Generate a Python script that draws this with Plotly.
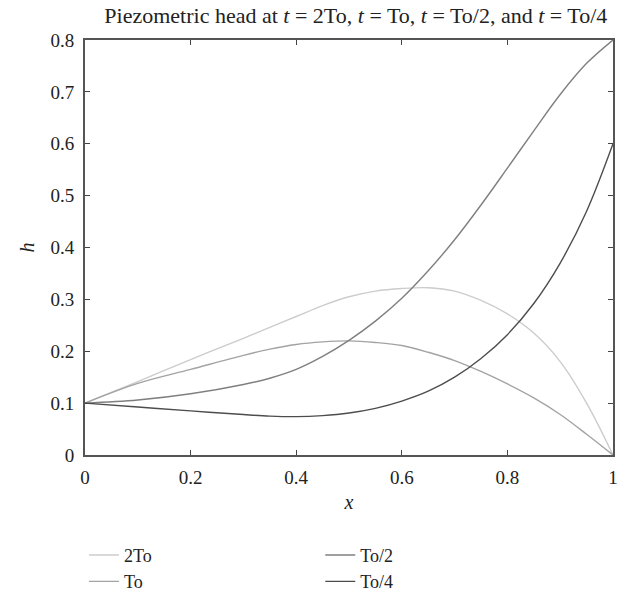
import plotly.graph_objects as go

x_vals = [0.0, 0.1, 0.2, 0.3, 0.35, 0.4, 0.45, 0.5, 0.55, 0.6, 0.65, 0.7, 0.75, 0.8, 0.85, 0.9, 0.95, 1.0]

h_2To = [0.100, 0.1415, 0.184, 0.225, 0.246, 0.267, 0.288, 0.305, 0.316, 0.321, 0.3225, 0.316, 0.298, 0.272, 0.235, 0.180, 0.100, 0.000]
h_To = [0.100, 0.138, 0.165, 0.192, 0.204, 0.213, 0.218, 0.220, 0.217, 0.211, 0.198, 0.182, 0.161, 0.137, 0.110, 0.078, 0.040, 0.000]
h_To2 = [0.100, 0.106, 0.118, 0.136, 0.148, 0.165, 0.190, 0.221, 0.258, 0.302, 0.355, 0.415, 0.482, 0.553, 0.625, 0.695, 0.755, 0.800]
h_To4 = [0.100, 0.0925, 0.085, 0.078, 0.075, 0.074, 0.076, 0.081, 0.090, 0.104, 0.123, 0.150, 0.186, 0.232, 0.292, 0.370, 0.470, 0.600]

names = ["2To", "To", "To/2", "To/4"]
series = [h_2To, h_To, h_To2, h_To4]
colors = ["#cccccc", "#a3a3a3", "#7f7f7f", "#4d4d4d"]
legends = ["legend", "legend", "legend2", "legend2"]

FONT = "Liberation Serif, Times New Roman, serif"
TXT = "#222222"

fig = go.Figure()
for name, ys, col, lg in zip(names, series, colors, legends):
    fig.add_trace(go.Scatter(
        x=x_vals, y=ys, mode="lines", name=name,
        line=dict(color=col, width=1.4, shape="spline", smoothing=1.0),
        legend=lg, legendgroup=name,
    ))

axis_common = dict(
    showgrid=False, zeroline=False,
    showline=True, linecolor="#555555", linewidth=2,
    mirror="ticks", ticks="inside", ticklen=5, tickwidth=1.2, tickcolor="#444444",
    tickfont=dict(family=FONT, size=19, color=TXT),
)

fig.update_layout(
    width=626, height=592,
    margin=dict(l=85, r=12.5, t=39.5, b=137, autoexpand=False),
    paper_bgcolor="white", plot_bgcolor="white",
    font=dict(family=FONT, color=TXT),
    title=dict(
        text="Piezometric head at <i>t</i> = 2To, <i>t</i> = To, <i>t</i> = To/2, and <i>t</i> = To/4",
        x=0.513, xref="paper", xanchor="center",
        y=0.975, yanchor="middle",
        font=dict(family=FONT, size=22, color=TXT),
    ),
    xaxis=dict(
        range=[0, 1], tickvals=[0, 0.2, 0.4, 0.6, 0.8, 1],
        ticktext=["0", "0.2", "0.4", "0.6", "0.8", "1"],
        ticklabelstandoff=4,
        title=dict(text="<i>x</i>", font=dict(family=FONT, size=20), standoff=8),
        **axis_common,
    ),
    yaxis=dict(
        range=[0, 0.8], tickvals=[0, 0.1, 0.2, 0.3, 0.4, 0.5, 0.6, 0.7, 0.8],
        ticktext=["0", "0.1", "0.2", "0.3", "0.4", "0.5", "0.6", "0.7", "0.8"],
        ticklabelstandoff=5,
        title=dict(text="<i>h</i>", font=dict(family=FONT, size=20), standoff=10),
        **axis_common,
    ),
    legend=dict(
        x=-0.002, xanchor="left", y=-0.197, yanchor="top",
        orientation="v", traceorder="grouped", tracegroupgap=0,
        font=dict(family=FONT, size=18, color=TXT),
        bgcolor="rgba(0,0,0,0)",
    ),
    legend2=dict(
        x=0.4456, xanchor="left", y=-0.197, yanchor="top",
        orientation="v", traceorder="grouped", tracegroupgap=0,
        font=dict(family=FONT, size=18, color=TXT),
        bgcolor="rgba(0,0,0,0)",
    ),
)

fig.write_html("out.html")
